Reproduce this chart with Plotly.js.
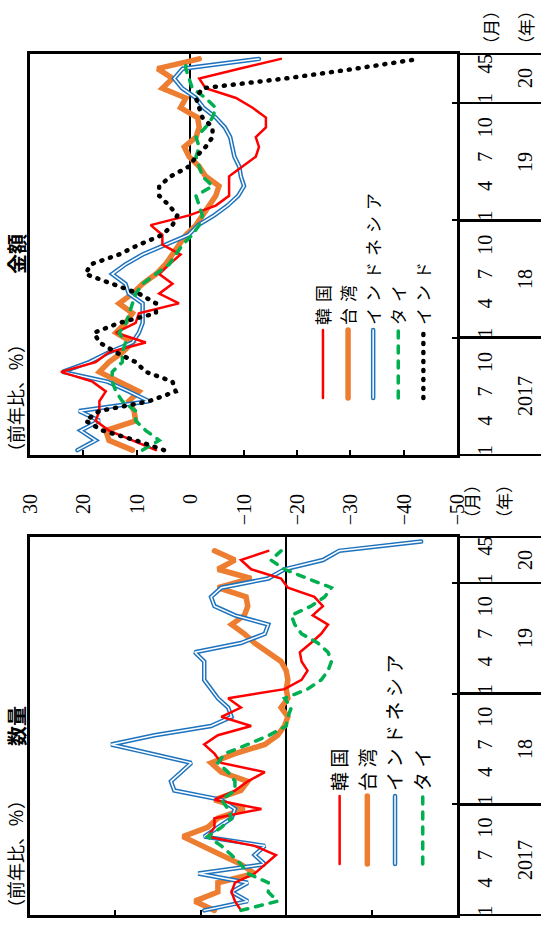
<!DOCTYPE html>
<html><head><meta charset="utf-8">
<script src="https://cdn.plot.ly/plotly-3.0.1.min.js"></script>
<style>
html,body{margin:0;padding:0;width:541px;height:933px;overflow:hidden;background:#fff;}
#wrap{position:absolute;left:0;top:0;width:933px;height:541px;transform-origin:0 0;transform:translate(0px,933px) rotate(-90deg);}
.legend .legendtext{letter-spacing:4.5px;}
.legend2 .legend2text{letter-spacing:6px;}
.legend .scrollbox,.legend2 .scrollbox{clip-path:none !important;}
path.js-line{stroke-linecap:round;}
</style></head><body><div id="wrap"></div>
<script>
// ---- categories ----
const months = ['2017-01','2017-02','2017-03','2017-04','2017-05','2017-06','2017-07','2017-08','2017-09','2017-10','2017-11','2017-12',
'2018-01','2018-02','2018-03','2018-04','2018-05','2018-06','2018-07','2018-08','2018-09','2018-10','2018-11','2018-12',
'2019-01','2019-02','2019-03','2019-04','2019-05','2019-06','2019-07','2019-08','2019-09','2019-10','2019-11','2019-12',
'2020-01','2020-02','2020-03','2020-04','2020-05'];
const years = ['2017','2018','2019','2020'];
const yearLabels = ['2017','18','19','20'];
const monthTickCats = ['2017-01','2017-04','2017-07','2017-10','2018-01','2018-04','2018-07','2018-10','2019-01','2019-04','2019-07','2019-10','2020-01','2020-04','2020-05'];
const monthTickText = ['1','4','7','10','1','4','7','10','1','4','7','10','1','4','5'];
const valueTicks = [30,20,10,0,-10,-20,-30,-40,-50];
const names = ['韓国','台湾','インドネシア','タイ','インド'];
const panelTitles = ['数量','金額'];
const unitLabel = '（前年比、％）';

// ---- 数量 (volume, % y/y) ----
const qtyKorea = [5.3,6.0,6.4,6.0,3.7,2.5,1.2,3.7,9.2,8.4,8.4,2.9,
  8.4,6.0,4.5,2.5,7.6,8.4,9.6,8.0,4.1,7.6,5.3,6.8,
  0.2,-1.8,-2.5,-1.8,-1.6,-2.9,-4.1,-4.9,-3.1,-4.3,-3.3,-0.2,
  0.6,4.1,5.3,2.1,null];
const qtyTaiwan = [8.4,10.7,8.0,8.0,3.7,5.3,7.6,9.9,12.1,9.2,8.0,4.9,
  8.4,5.3,4.5,7.6,8.8,6.0,2.5,1.0,0.2,-0.2,0.6,-0.2,
  0.0,-0.2,0.0,0.6,2.1,3.7,4.9,6.4,4.9,4.5,4.7,8.0,
  4.1,8.0,6.0,8.4,null];
const qtyIndonesia = [9.6,4.5,6.4,4.5,10.3,2.5,3.7,2.5,9.6,8.0,6.4,6.0,
  7.6,13.1,13.5,12.3,11.1,15.8,20.5,15.4,8.8,6.4,6.8,8.0,
  8.8,9.6,9.6,9.6,10.7,5.3,2.5,2.1,6.0,8.4,8.8,7.6,
  2.1,0.2,-4.3,-6.2,-15.8];
const qtyThai = [5.3,1.0,2.1,2.1,4.5,5.3,6.4,7.6,9.2,7.6,6.4,6.8,
  7.6,6.0,6.0,6.8,8.0,7.2,4.5,2.0,0.0,-0.2,-0.6,0.2,
  -2.5,-4.1,-4.9,-5.3,-4.9,-3.7,-1.8,-1.0,-0.6,-2.9,-4.5,-5.3,
  -2.5,0.2,1.8,0.6,null];

// ---- 金額 (value, % y/y) ----
const valKorea = [6.4,10.8,15.2,17.7,17.0,17.0,15.8,18.3,24.2,17.7,15.2,8.3,
  13.9,10.2,9.6,2.1,5.8,3.3,5.8,3.9,1.8,5.2,5.2,7.4,
  0.2,-4.8,-7.3,-7.3,-7.3,-9.8,-12.3,-12.9,-12.3,-14.2,-14.2,-11.7,
  -8.6,-2.9,-1.7,-9.2,-17.0];
const valTaiwan = [10.8,15.2,15.8,10.2,10.5,11.5,9.6,13.3,17.0,15.2,12.7,10.8,
  13.9,12.1,10.8,13.3,10.8,8.9,6.4,4.6,3.3,2.1,0.8,-1.1,
  -2.3,-3.6,-4.8,-5.4,-2.9,-1.7,0.2,1.1,-1.1,-1.7,-1.4,1.8,
  0.8,5.2,3.3,6.1,-1.7];
const valIndonesia = [21.1,17.7,20.5,17.0,20.8,7.7,11.5,15.5,23.9,18.9,15.2,10.8,
  9.6,8.9,8.9,8.9,11.5,12.1,14.6,12.1,8.9,4.5,0.3,-1.5,
  -4.5,-7.0,-9.0,-10.1,-9.5,-9.2,-8.3,-7.9,-7.5,-6.5,-4.8,-2.5,
  -1.1,1.5,3.0,1.4,-12.9];
const valThai = [8.9,5.8,8.3,10.2,10.2,12.7,13.9,14.6,14.6,12.7,12.7,12.1,
  13.3,12.0,11.4,10.8,10.2,8.9,6.4,3.9,2.7,1.4,-0.4,-1.7,
  -2.3,-1.7,-1.1,-4.2,-2.3,-1.7,-1.1,-1.7,-1.1,-2.9,-4.2,-4.8,
  -2.9,-0.4,0.2,0.8,0.8];
const valIndia = [4.9,10.2,16.4,19.6,17.0,7.7,2.7,3.3,8.3,10.2,13.9,17.0,
  18.0,13.3,6.4,6.4,9.6,14.6,19.6,18.6,13.3,9.6,5.2,3.3,
  2.4,3.9,5.8,5.8,3.6,0.2,-1.1,-2.9,-4.2,-4.2,-2.3,-1.7,
  -1.1,-2.3,-17.9,-31.0,-42.9];

// ---- derived positions ----
const xi = months.map((m, i) => i);
const firstIdx = years.map(y => months.findIndex(m => m.startsWith(y)));
const lastIdx = years.map(y => { let k = -1; months.forEach((m, i) => { if (m.startsWith(y)) k = i; }); return k; });
const yearCenters = years.map((y, j) => (firstIdx[j] + lastIdx[j]) / 2);
const boundaries = firstIdx.map(i => i - 0.5).concat([months.length - 0.5]);
const innerBounds = boundaries.slice(1, -1);
const monthTickIdx = monthTickCats.map(c => months.indexOf(c));
const xRange = [-0.5, months.length - 0.5];

const C = {red:'#FF0000', orange:'#ED7D31', blue:'#1E73BE', green:'#00B050', black:'#000000'};
const serif = 'Liberation Serif, Noto Sans CJK JP, serif';
const jp = 'Noto Sans CJK JP, sans-serif';

function panelTraces(xa, ya, lg, d) {
  const t = [];
  t.push({x: xi, y: d.tw, xaxis: xa, yaxis: ya, mode: 'lines', name: names[1], legend: lg, legendrank: 2,
          line: {color: C.orange, width: 5.5}});
  t.push({x: xi, y: d.id, xaxis: xa, yaxis: ya, mode: 'lines', name: names[2], legend: lg, legendrank: 3,
          line: {color: C.blue, width: 4.5}});
  t.push({x: xi, y: d.id, xaxis: xa, yaxis: ya, mode: 'lines', showlegend: false, hoverinfo: 'skip',
          line: {color: '#FFFFFF', width: 1.5}});
  t.push({x: xi, y: d.kr, xaxis: xa, yaxis: ya, mode: 'lines', name: names[0], legend: lg, legendrank: 1,
          line: {color: C.red, width: 2.5}});
  t.push({x: xi, y: d.th, xaxis: xa, yaxis: ya, mode: 'lines', name: names[3], legend: lg, legendrank: 4,
          line: {color: C.green, width: 3.5, dash: '7px,8px'}});
  if (d.in) t.push({x: xi, y: d.in, xaxis: xa, yaxis: ya, mode: 'lines', name: names[4], legend: lg, legendrank: 5,
          line: {color: C.black, width: 4.5, dash: '1px,8px'}});
  return t;
}
// invisible carriers so the separator / month-label axes are drawn
function carrier(xa, ya, ys) {
  return {x: xi, y: ys, xaxis: xa, yaxis: ya, mode: 'lines', opacity: 0, showlegend: false, hoverinfo: 'skip',
          line: {width: 0, color: 'rgba(0,0,0,0)'}};
}

const data = [carrier('x3', 'y', qtyIndonesia), carrier('x5', 'y', qtyIndonesia),
              carrier('x4', 'y2', valIndia), carrier('x6', 'y2', valIndia)]
  .concat(panelTraces('x', 'y', 'legend', {kr: qtyKorea, tw: qtyTaiwan, id: qtyIndonesia, th: qtyThai}))
  .concat(panelTraces('x2', 'y2', 'legend2', {kr: valKorea, tw: valTaiwan, id: valIndonesia, th: valThai, in: valIndia}));

const W = 933, H = 541;
const dom1 = [18 / W, 396 / W], dom2 = [478 / W, 879 / W];

function mainX(dom, anchor) {
  return {domain: dom, anchor: anchor, range: xRange, tickmode: 'array', tickvals: innerBounds,
    ticks: 'inside', ticklen: 5, tickwidth: 2, tickcolor: '#000', showticklabels: false,
    showline: true, mirror: true, linewidth: 3, linecolor: '#000', showgrid: false, zeroline: false, fixedrange: true};
}
function sepX(over, anchor) {
  return {overlaying: over, anchor: anchor, range: xRange, tickmode: 'array', tickvals: boundaries,
    ticks: 'outside', ticklen: 90, tickwidth: 2.5, tickcolor: '#000', showticklabels: false,
    showline: false, showgrid: false, zeroline: false};
}
function monX(over, anchor) {
  return {overlaying: over, anchor: anchor, range: xRange, tickmode: 'array', tickvals: monthTickIdx, ticktext: monthTickText,
    ticks: '', tickangle: 0, ticklabelstandoff: 14, tickfont: {family: serif, size: 20, color: '#000'},
    showline: false, showgrid: false, zeroline: false};
}

const annotations = [];
['x', 'x2'].forEach(xr => {
  years.forEach((y, j) => annotations.push({xref: xr, yref: 'paper', x: yearCenters[j], y: 0, yanchor: 'middle',
    yshift: -68, text: yearLabels[j], showarrow: false, font: {family: serif, size: 20, color: '#000'}}));
});
annotations.push({xref: 'x', yref: 'paper', x: xRange[1], y: 0, xanchor: 'left', yanchor: 'middle', xshift: 8, yshift: -14,
  text: '（月）', showarrow: false, font: {family: jp, size: 17, color: '#000'}});
annotations.push({xref: 'x', yref: 'paper', x: xRange[1], y: 0, xanchor: 'left', yanchor: 'middle', xshift: 8, yshift: -46,
  text: '（年）', showarrow: false, font: {family: jp, size: 17, color: '#000'}});
annotations.push({xref: 'paper', yref: 'paper', x: 1, y: 0, xanchor: 'right', yanchor: 'middle', yshift: -33,
  text: '（月）', showarrow: false, font: {family: jp, size: 17, color: '#000'}});
annotations.push({xref: 'paper', yref: 'paper', x: 1, y: 0, xanchor: 'right', yanchor: 'middle', yshift: -68,
  text: '（年）', showarrow: false, font: {family: jp, size: 17, color: '#000'}});
// unit labels and panel titles at the top edge
annotations.push({xref: 'paper', yref: 'paper', x: 14 / W, y: 1, xanchor: 'left', yanchor: 'top', yshift: 30,
  text: unitLabel, showarrow: false, font: {family: jp, size: 18, color: '#000'}});
annotations.push({xref: 'paper', yref: 'paper', x: 470 / W, y: 1, xanchor: 'left', yanchor: 'top', yshift: 30,
  text: unitLabel, showarrow: false, font: {family: jp, size: 18, color: '#000'}});
annotations.push({xref: 'x', yref: 'paper', x: (xRange[0] + xRange[1]) / 2, y: 1, yanchor: 'top', yshift: 30,
  text: '<b>' + panelTitles[0] + '</b>', showarrow: false, font: {family: jp, size: 20, color: '#000'}});
annotations.push({xref: 'x2', yref: 'paper', x: (xRange[0] + xRange[1]) / 2, y: 1, yanchor: 'top', yshift: 30,
  text: '<b>' + panelTitles[1] + '</b>', showarrow: false, font: {family: jp, size: 20, color: '#000'}});

const layout = {
  width: W, height: H, margin: {l: 0, r: 0, t: 30, b: 84}, paper_bgcolor: '#fff', plot_bgcolor: '#fff',
  showlegend: true,
  xaxis: mainX(dom1, 'y'), xaxis2: mainX(dom2, 'y2'),
  xaxis3: sepX('x', 'y'), xaxis4: sepX('x2', 'y2'),
  xaxis5: monX('x', 'y'), xaxis6: monX('x2', 'y2'),
  yaxis: {anchor: 'x', range: [-20, 30], dtick: 10, tick0: 0, ticks: 'inside', ticklen: 5, tickwidth: 2, tickcolor: '#000',
    showticklabels: false, showline: true, mirror: true, linewidth: 3, linecolor: '#000', showgrid: false,
    zeroline: true, zerolinecolor: '#000', zerolinewidth: 2.5},
  yaxis2: {anchor: 'x2', range: [-50, 30], tickmode: 'array', tickvals: valueTicks, ticks: 'inside', ticklen: 5, tickwidth: 2,
    tickcolor: '#000', tickfont: {family: serif, size: 20, color: '#000'}, ticklabelstandoff: 32,
    showline: true, mirror: true, linewidth: 3, linecolor: '#000', showgrid: false,
    zeroline: true, zerolinecolor: '#000', zerolinewidth: 2.5},
  legend: {x: 64 / W, y: 0.319, xanchor: 'left', yanchor: 'top', bgcolor: 'rgba(0,0,0,0)', borderwidth: 0,
    itemwidth: 68, font: {family: jp, size: 19, color: '#000'}, traceorder: 'normal'},
  legend2: {x: 530 / W, y: 0.355, xanchor: 'left', yanchor: 'top', bgcolor: 'rgba(0,0,0,0)', borderwidth: 0,
    itemwidth: 68, font: {family: jp, size: 17, color: '#000'}, traceorder: 'normal'},
  annotations: annotations
};

// give every インドネシア legend sample the same double-line look as its trace
function doubleLegendLines(root) {
  root.querySelectorAll('text.legendtext, text.legend2text').forEach(txt => {
    if ((txt.textContent || '').indexOf('ネシア') < 0) return;
    let item = txt.parentNode;
    while (item && item !== root && !(item.classList && item.classList.contains('traces'))) item = item.parentNode;
    if (!item || item === root) return;
    if (item.querySelector('path.inner-white')) return;
    item.querySelectorAll('path').forEach(p => {
      const cls = p.getAttribute('class') || '';
      if (cls.indexOf('js-line') < 0) return;
      const c = p.cloneNode(true);
      c.setAttribute('class', 'inner-white');
      c.style.stroke = '#FFFFFF';
      c.style.strokeWidth = '1.5px';
      c.style.strokeLinecap = 'round';
      p.parentNode.appendChild(c);
    });
  });
}

const wrap = document.getElementById('wrap');
const obs = new MutationObserver(() => doubleLegendLines(wrap));
obs.observe(wrap, {childList: true, subtree: true});
Plotly.newPlot('wrap', data, layout, {staticPlot: true, displayModeBar: false}).then(gd => {
  doubleLegendLines(gd);
  setTimeout(() => doubleLegendLines(gd), 50);
  setTimeout(() => { doubleLegendLines(gd); obs.disconnect(); }, 500);
});
</script>
</body></html>
